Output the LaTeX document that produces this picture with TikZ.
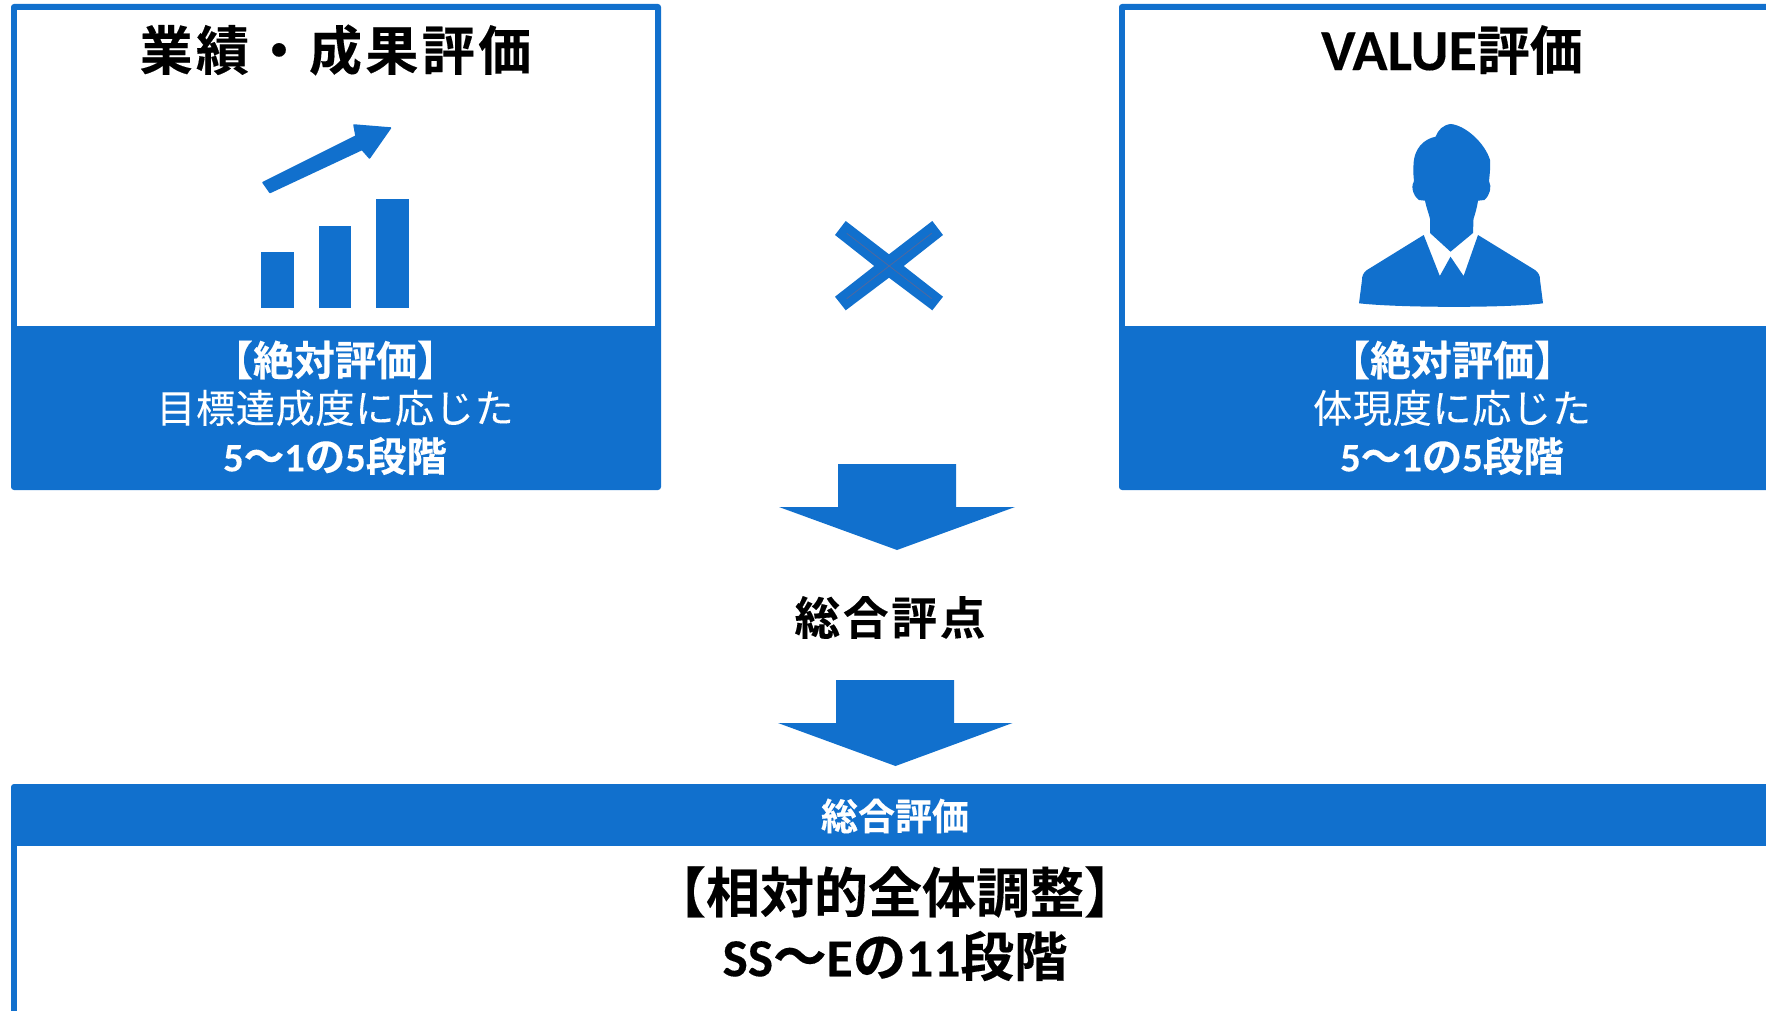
\documentclass[tikz,border=0pt]{standalone}
\usepackage{fontspec}
\setmainfont{Carlito}
\newfontfamily\cjkB[FakeBold=0.25]{Noto Sans CJK JP Bold}
\newfontfamily\cjkBs[LetterSpace=6.5,FakeBold=0.25]{Noto Sans CJK JP Bold}
\newfontfamily\cjkRs[LetterSpace=2,FakeBold=0.15]{Noto Sans CJK JP}
\newfontfamily\latB[FakeBold=0.2]{Carlito Bold}
\definecolor{mainblue}{HTML}{1170CD}
\definecolor{crossline}{HTML}{4F689F}
\newcommand{\fs}[1]{\fontsize{#1}{#1}\selectfont}
\tikzset{
  blueshape/.style={fill=mainblue,draw=none},
  band/.style={fill=mainblue,draw=none},
  txt/.style={inner sep=0pt,anchor=center,align=center},
  crossmark/.style={draw=crossline,line width=0.8pt}
}
\begin{document}
\begin{tikzpicture}[x=1pt,y=-1pt]
\useasboundingbox (0,0) rectangle (1766,1011);
\begin{scope}
\clip (0,0) rectangle (1766,1011);
% left box
\path[band,rounded corners=3pt] (11,4) rectangle (661,490);
\path[fill=white] (17,10) rectangle (655,326);
% right box
\path[band,rounded corners=3pt] (1119,4) rectangle (1800,490);
\path[fill=white] (1125,10) rectangle (1790,326);
% bottom box
\path[band,rounded corners=3pt] (11,784) rectangle (1800,1050);
\path[fill=white] (17,846) rectangle (1790,1040);
% chart icon
\path[blueshape] (260.6,252) rectangle (293.6,308);
\path[blueshape] (318.7,226) rectangle (351,308);
\path[blueshape] (376,199) rectangle (409,308);
\path[fill=mainblue,draw=mainblue,line width=1.5pt,line join=round] (263,182.5) -- (356,136) -- (354,125) -- (390.5,128) -- (369.5,158) -- (362,149.5) -- (270,192.5) -- cycle;
% person icon
\path[blueshape] (1450.5,124) .. controls (1443,125) and (1438,130) .. (1435.6,136.7)
  .. controls (1424,139) and (1414,148) .. (1413.5,165)
  .. controls (1413,172) and (1413.5,176) .. (1414,181)
  .. controls (1411,185) and (1412,195) .. (1419,200)
  -- (1425,200.7) .. controls (1427,210) and (1429,214) .. (1430,219)
  -- (1430,233) -- (1450.5,251.7) -- (1473,233) -- (1473.5,219)
  .. controls (1475,214) and (1477,208) .. (1478,200.7)
  -- (1484.4,200) .. controls (1490,195) and (1492,187) .. (1489,181)
  .. controls (1490,172) and (1490.5,165) .. (1490,160)
  .. controls (1485,143) and (1465,125) .. (1450.5,124) -- cycle;
\path[blueshape] (1423.7,235) -- (1439.8,276) -- (1450.5,256.7) -- (1463.6,276) -- (1478,235)
  -- (1535,270) .. controls (1539,273) and (1540,276) .. (1540,280)
  -- (1543,303.3) .. controls (1510,308) and (1400,308) .. (1359,303.3)
  -- (1362,280) .. controls (1362,276) and (1363,273) .. (1367,270) -- cycle;
% cross
\path[blueshape] (845.7,221) -- (889,254.3) -- (932.3,221) -- (943,235) -- (903.7,266) -- (943,296.7) -- (932.3,310.3) -- (889,277.7) -- (845.7,310.3) -- (835,296.7) -- (874.3,266) -- (835,235) -- cycle;
\coordinate (xa) at (846.7,233.3);
\coordinate (xb) at (931.7,298.7);
\coordinate (xc) at (931.7,233.3);
\coordinate (xd) at (846.7,298.7);
\draw[crossmark] (xa) -- (xb);
\draw[crossmark] (xc) -- (xd);
% block arrows
\path[blueshape] (838,464) -- (956,464) -- (956,507) -- (1015,507) -- (897,550) -- (779,507) -- (838,507) -- cycle;
\path[blueshape] (836,680) -- (954,680) -- (954,723) -- (1012.5,723) -- (895.5,766) -- (778,723) -- (836,723) -- cycle;
\end{scope}
% text
\node[txt] (t1) at (335.5,50) {\fs{53}\cjkBs 業績・成果評価};
\node[txt] (t2) at (1452,50) {\fs{53}{\fontsize{58}{58}\selectfont\latB VALUE}\cjkB 評価};
\node[txt,text=white] (a1) at (335,360) {\fs{41}\cjkB 【絶対評価】};
\node[txt,text=white] (b1) at (335,408) {\fs{39}\cjkRs 目標達成度に応じた};
\node[txt,text=white] (c1) at (335,456) {\fs{40.5}{\latB 5}\cjkB 〜{\latB 1}の{\latB 5}段階};
\node[txt,text=white] (a2) at (1452,360) {\fs{41}\cjkB 【絶対評価】};
\node[txt,text=white] (b2) at (1452,408) {\fs{39}\cjkRs 体現度に応じた};
\node[txt,text=white] (c2) at (1452,456) {\fs{40.5}{\latB 5}\cjkB 〜{\latB 1}の{\latB 5}段階};
\node[txt] (s) at (890,617.5) {\fs{45.5}\cjkBs 総合評点};
\node[txt,text=white] (h) at (895,816) {\fs{37}\cjkB 総合評価};
\node[txt] (m1) at (895,892) {\fs{54}\cjkB 【相対的全体調整】};
\node[txt] (m2) at (895,956) {\fs{53.5}{\latB SS}\cjkB 〜{\latB E}の{\latB 11}段階};
\end{tikzpicture}
\end{document}
